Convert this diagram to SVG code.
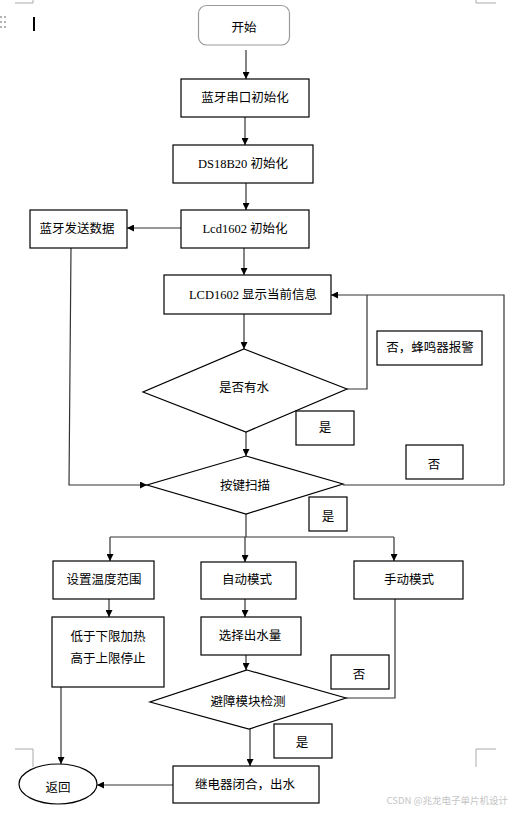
<svg xmlns="http://www.w3.org/2000/svg" width="511" height="815" viewBox="0 0 511 815">
<style>
.b{fill:#fff;stroke:#000;stroke-width:1.2}
.t{font-family:"Liberation Serif","Noto Sans CJK SC",serif;font-size:12.5px;fill:#000;text-anchor:middle;dominant-baseline:central}
.c{fill:none;stroke:#333;stroke-width:1.2}
.m{fill:none;stroke:#aaa;stroke-width:1}
</style>
<defs>
<marker id="a" viewBox="0 0 10 10" refX="10" refY="5" markerWidth="7" markerHeight="7" orient="auto" markerUnits="userSpaceOnUse">
<path d="M0,0 L10,5 L0,10 z" fill="#000"/>
</marker>
</defs>
<rect width="511" height="815" fill="#fff"/>
<g id="decor">
<path class="m" d="M15,3 H33 V0 M476,0 V3 H496 M15,749 H33 V767 M496,749 H476 V767"/>
<g fill="#999"><circle cx="1" cy="17" r="1"/><circle cx="5" cy="17" r="1"/><circle cx="1" cy="22" r="1"/><circle cx="5" cy="22" r="1"/><circle cx="1" cy="27" r="1"/><circle cx="5" cy="27" r="1"/></g>
<rect x="33" y="17" width="2" height="14" fill="#000"/>
<text x="508" y="804" style="font-family:'Noto Sans CJK SC',sans-serif;font-size:9.5px;fill:#c4c4c4;text-anchor:end">CSDN @兆龙电子单片机设计</text>
</g>
<g id="connectors">
<path class="c" d="M246,50 V79" marker-end="url(#a)"/>
<path class="c" d="M245,117 V145" marker-end="url(#a)"/>
<path class="c" d="M246,183 V210" marker-end="url(#a)"/>
<path class="c" d="M181,228 H127" marker-end="url(#a)"/>
<path class="c" d="M71,248 L69,485 H147" marker-end="url(#a)"/>
<path class="c" d="M244,248 V275" marker-end="url(#a)"/>
<path class="c" d="M504,485 V295 H331" marker-end="url(#a)"/>
<path class="c" d="M347,389 H367 V295"/>
<path class="c" d="M343,485 H504"/>
<path class="c" d="M244,314 V349" marker-end="url(#a)"/>
<path class="c" d="M246,432 V456" marker-end="url(#a)"/>
<path class="c" d="M246,514 V537 M110,537 H394"/>
<path class="c" d="M110,537 V561" marker-end="url(#a)"/>
<path class="c" d="M245,537 V562" marker-end="url(#a)"/>
<path class="c" d="M394,537 V561" marker-end="url(#a)"/>
<path class="c" d="M109,599 V617" marker-end="url(#a)"/>
<path class="c" d="M245,599 V617" marker-end="url(#a)"/>
<path class="c" d="M246,655 V670" marker-end="url(#a)"/>
<path class="c" d="M395,599 V698 H346"/>
<path class="c" d="M250,729 V766" marker-end="url(#a)"/>
<path class="c" d="M173,785 H97" marker-end="url(#a)"/>
<path class="c" d="M61,687 V764" marker-end="url(#a)"/>
</g>
<g id="start"><rect class="b" x="198.5" y="5.5" width="91" height="39.5" rx="8" style="stroke:#999"/><text class="t" x="244" y="28">开始</text></g>
<g id="bt-init"><rect class="b" x="181" y="79" width="128" height="38"/><text class="t" x="245" y="98">蓝牙串口初始化</text></g>
<g id="ds-init"><rect class="b" x="173" y="145" width="140" height="38"/><text class="t" x="243" y="164">DS18B20 初始化</text></g>
<g id="lcd-init"><rect class="b" x="181" y="210" width="128" height="38"/><text class="t" x="245" y="229">Lcd1602 初始化</text></g>
<g id="bt-send"><rect class="b" x="30" y="210" width="97" height="38"/><text class="t" x="77" y="229">蓝牙发送数据</text></g>
<g id="lcd-show"><rect class="b" x="164" y="275" width="167" height="39"/><text class="t" x="253" y="295">LCD1602 显示当前信息</text></g>
<g id="water"><polygon class="b" points="244,349 347,389 246,432 143,392"/><text class="t" x="244" y="388">是否有水</text></g>
<g id="alarm"><rect class="b" x="377" y="331" width="105" height="34"/><text class="t" x="430" y="348">否，蜂鸣器报警</text></g>
<g id="yes1"><rect class="b" x="296" y="411" width="58" height="34"/><text class="t" x="325" y="428">是</text></g>
<g id="keyscan"><polygon class="b" points="246,456 343,484 246,514 147,485"/><text class="t" x="245" y="486">按键扫描</text></g>
<g id="no1"><rect class="b" x="406" y="445" width="57" height="34"/><text class="t" x="434" y="465">否</text></g>
<g id="yes2"><rect class="b" x="309" y="497" width="38" height="34"/><text class="t" x="328" y="517">是</text></g>
<g id="temp-range"><rect class="b" x="53" y="561" width="101" height="38"/><text class="t" x="104" y="580">设置温度范围</text></g>
<g id="auto"><rect class="b" x="201" y="562" width="95" height="37"/><text class="t" x="247" y="580">自动模式</text></g>
<g id="manual"><rect class="b" x="354" y="561" width="109" height="38"/><text class="t" x="409" y="580">手动模式</text></g>
<g id="heat"><rect class="b" x="52" y="617" width="112" height="70"/><text class="t" x="108" y="637">低于下限加热</text><text class="t" x="108" y="659">高于上限停止</text></g>
<g id="select"><rect class="b" x="201" y="617" width="100" height="38"/><text class="t" x="250" y="636">选择出水量</text></g>
<g id="obstacle"><polygon class="b" points="247,670 346,698 249,729 150,702"/><text class="t" x="248" y="702">避障模块检测</text></g>
<g id="no2"><rect class="b" x="331" y="655" width="58" height="34"/><text class="t" x="359" y="675">否</text></g>
<g id="yes3"><rect class="b" x="274" y="724" width="58" height="34"/><text class="t" x="302" y="743">是</text></g>
<g id="relay"><rect class="b" x="173" y="766" width="146" height="37"/><text class="t" x="245" y="785">继电器闭合，出水</text></g>
<g id="return"><ellipse class="b" cx="58" cy="784" rx="39" ry="20"/><text class="t" x="58" y="788">返回</text></g>
</svg>
